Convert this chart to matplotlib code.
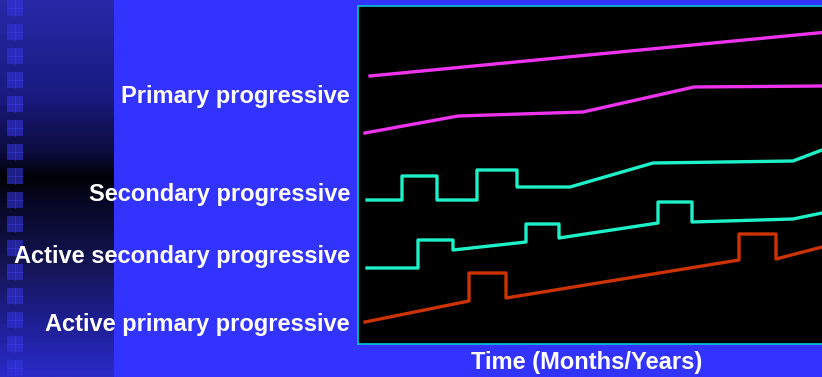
import matplotlib.pyplot as plt
import numpy as np
from matplotlib.colors import LinearSegmentedColormap

plt.rcParams['font.family'] = ['Liberation Sans', 'DejaVu Sans']

# time axis runs 0..472, disability level 0..338 (arbitrary units)
labels = ['Primary progressive', 'Secondary progressive',
          'Active secondary progressive', 'Active primary progressive']
label_levels = [247, 149, 87, 20]

t_primary_a = [12, 480]
y_primary_a = [268, 313]

t_primary_b = [7, 100, 225, 336, 464, 480]
y_primary_b = [211, 228, 232, 257, 258, 258]

t_secondary = [9, 44, 44, 79, 79, 119, 119, 159, 159, 212, 295, 435, 464, 480]
y_secondary = [144, 144, 168, 168, 144, 144, 174, 174, 157, 157, 181, 183, 194, 198]

t_active_sec = [9, 60, 60, 95, 95, 168, 168, 201, 201, 300, 300, 334, 334, 435, 464, 480]
y_active_sec = [76, 76, 104, 104, 94, 102, 120, 120, 106, 121, 142, 142, 122, 125, 131, 134]

t_active_pri = [7, 111, 111, 148, 148, 381, 381, 418, 418, 464, 480]
y_active_pri = [22, 43, 71, 71, 46, 84, 110, 110, 85, 97, 101]

BLUE = '#3333ff'
MAGENTA = '#ee33ee'
CYAN = '#1ef0c8'
RED = '#cc3300'

fig = plt.figure(figsize=(8.22, 3.77), dpi=100, facecolor=BLUE)

# dark gradient strip on the left with a column of small squares
strip = fig.add_axes([0, 0, 114 / 822, 1])
grad_cmap = LinearSegmentedColormap.from_list(
    'strip', [(0, '#2828a8'), (0.25, '#1a1a80'), (0.4, '#0c0c40'),
              (0.47, '#010106'), (0.55, '#08082a'), (0.7, '#141452'),
              (0.85, '#1e1e90'), (1, '#2a2ac8')])
strip.imshow(np.linspace(0, 1, 200).reshape(-1, 1), aspect='auto',
             cmap=grad_cmap, extent=[0, 114, 377, 0])
for top in range(0, 377, 24):
    strip.add_patch(plt.Rectangle((7, top), 16, 16, facecolor='#3333dd',
                                  edgecolor='none', alpha=0.6))
    strip.plot([15, 15], [top, top + 16], color='#4040f0', lw=0.4, alpha=0.7)
    strip.plot([7, 23], [top + 8, top + 8], color='#4040f0', lw=0.4, alpha=0.7)
strip.set_xlim(0, 114)
strip.set_ylim(377, 0)
strip.axis('off')

ax = fig.add_axes([358 / 822, 33 / 377, 472 / 822, 338 / 377])
ax.set_facecolor('black')
lw = 2.4
ax.plot(t_primary_a, y_primary_a, color=MAGENTA, lw=lw)
ax.plot(t_primary_b, y_primary_b, color=MAGENTA, lw=lw)
ax.plot(t_secondary, y_secondary, color=CYAN, lw=lw)
ax.plot(t_active_sec, y_active_sec, color=CYAN, lw=lw)
ax.plot(t_active_pri, y_active_pri, color=RED, lw=lw)
ax.set_xlim(0, 472)
ax.set_ylim(0, 338)
ax.set_xticks([])
ax.set_yticks([])
for side in ax.spines.values():
    side.set_color('#00c8d8')
    side.set_linewidth(1.2)

for text, level in zip(labels, label_levels):
    ax.text(-8, level, text, transform=ax.transData, ha='right', va='center',
            color='white', fontsize=17, fontweight='bold', clip_on=False)

fig.text(587 / 822, 1 - 362 / 377, 'Time (Months/Years)', ha='center',
         va='center', color='white', fontsize=17, fontweight='bold')

fig.savefig('out.png', dpi=100, facecolor=BLUE)
